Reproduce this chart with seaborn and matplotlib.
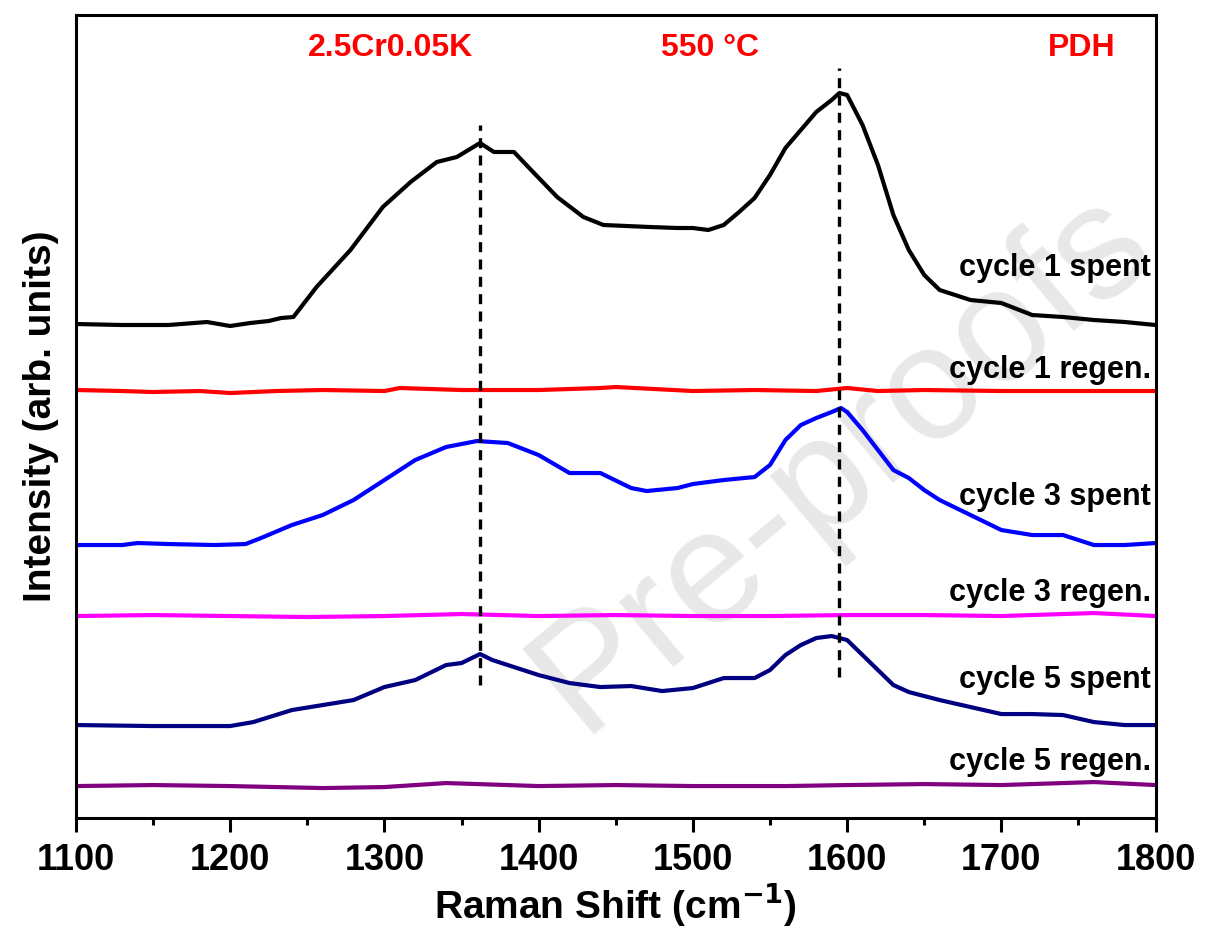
import numpy as np
import pandas as pd
import matplotlib
matplotlib.use("Agg")
import matplotlib.pyplot as plt
import seaborn as sns

# ---- data (intensity in arbitrary units) ----
x_c1_spent = [1100, 1130, 1160, 1185, 1200, 1213, 1225, 1233, 1241, 1256, 1278, 1299, 1317, 1334,
              1347, 1362, 1371, 1384, 1397, 1412, 1429, 1442, 1472, 1490, 1500,
              1510, 1520, 1530, 1540, 1550, 1560, 1570, 1580, 1590, 1595, 1600, 1610, 1620, 1630, 1640, 1650,
              1660, 1670, 1680, 1700, 1720, 1740, 1760, 1780, 1800]
y_c1_spent = [494, 493, 493, 496, 492, 495, 497, 500, 501, 531, 568, 611, 636, 656,
              661, 675, 666, 666, 645, 621, 601, 593, 591, 590, 590,
              588, 593, 606, 620, 643, 670, 688, 706, 718, 725, 723, 693, 653, 603, 568, 543,
              528, 523, 518, 515, 503, 501, 498, 496, 493]

x_c1_regen = [1100, 1130, 1150, 1180, 1200, 1230, 1260, 1300, 1310, 1350, 1400, 1440, 1450, 1500, 1540,
              1580, 1600, 1620, 1650, 1700, 1750, 1800]
y_c1_regen = [428, 427, 426, 427, 425, 427, 428, 427, 430, 428, 428, 430, 431, 427, 428,
              427, 430, 427, 428, 427, 427, 427]

x_c3_spent = [1100, 1130, 1140, 1160, 1190, 1210, 1220, 1240, 1260, 1280, 1300, 1320, 1340, 1360, 1380,
              1400, 1420, 1440, 1460, 1470, 1490, 1500, 1520, 1540, 1550, 1560, 1570, 1580, 1590, 1596,
              1600, 1610, 1620, 1630, 1640, 1650, 1660, 1680, 1700, 1720, 1740, 1760, 1780, 1800]
y_c3_spent = [273, 273, 275, 274, 273, 274, 280, 293, 303, 318, 338, 358, 371, 377, 375,
              363, 345, 345, 330, 327, 330, 334, 338, 341, 353, 378, 393, 400, 406, 410,
              406, 388, 368, 348, 340, 328, 318, 303, 288, 283, 283, 273, 273, 275]

x_c3_regen = [1100, 1150, 1200, 1250, 1300, 1350, 1400, 1450, 1500, 1550, 1600, 1650, 1700, 1760, 1800]
y_c3_regen = [202, 203, 202, 201, 202, 204, 202, 203, 202, 202, 203, 203, 202, 205, 202]

x_c5_spent = [1100, 1150, 1200, 1215, 1240, 1260, 1280, 1300, 1320, 1340, 1350, 1362, 1370, 1400, 1420,
              1440, 1460, 1480, 1500, 1520, 1540, 1550, 1560, 1570, 1580, 1590, 1600, 1610, 1620, 1630,
              1640, 1660, 1680, 1700, 1720, 1740, 1760, 1780, 1800]
y_c5_spent = [93, 92, 92, 96, 108, 113, 118, 131, 138, 153, 155, 164, 158, 143, 135,
              131, 132, 127, 130, 140, 140, 148, 163, 173, 180, 182, 178, 163, 148, 133,
              126, 118, 111, 104, 104, 103, 96, 93, 93]

x_c5_regen = [1100, 1150, 1200, 1260, 1300, 1340, 1400, 1450, 1500, 1560, 1600, 1650, 1700, 1760, 1800]
y_c5_regen = [32, 33, 32, 30, 31, 35, 32, 33, 32, 32, 33, 34, 33, 36, 33]

series_names = ["cycle 1 spent", "cycle 1 regen.", "cycle 3 spent",
                "cycle 3 regen.", "cycle 5 spent", "cycle 5 regen."]
series_colors = ["#000000", "#ff0000", "#0000ff", "#ff00ff", "#000080", "#800080"]
label_y = [550, 448, 321, 225, 138, 56]

peak_positions = [1362, 1595]
peak_ranges = [(133, 693), (141, 750)]

top_labels = ["2.5Cr0.05K", "550 °C", "PDH"]
top_label_x = [1304, 1511, 1752]

xticks = [1100, 1200, 1300, 1400, 1500, 1600, 1700, 1800]

# ---- plotting ----
sns.set_style("ticks")
plt.rcParams["font.family"] = ["Liberation Sans", "DejaVu Sans"]
plt.rcParams["font.weight"] = "bold"
plt.rcParams["text.color"] = "black"
plt.rcParams["axes.labelcolor"] = "black"
plt.rcParams["xtick.color"] = "black"
plt.rcParams["axes.edgecolor"] = "black"

fig = plt.figure(figsize=(12.05, 9.36), dpi=100)
ax = fig.add_axes([0.063, 0.126, 0.896, 0.858])

# watermark (behind everything)
fig.text(0.699, 0.508, "Pre-proofs", fontsize=116, color="#e8e8e8",
         rotation=40, ha="center", va="center", zorder=-5, family="Liberation Sans",
         fontweight="normal", rotation_mode="anchor")
ax.set_facecolor("none")

xs = [x_c1_spent, x_c1_regen, x_c3_spent, x_c3_regen, x_c5_spent, x_c5_regen]
ys = [y_c1_spent, y_c1_regen, y_c3_spent, y_c3_regen, y_c5_spent, y_c5_regen]
for xv, yv, name, col in zip(xs, ys, series_names, series_colors):
    df = pd.DataFrame({"x": xv, "y": yv})
    sns.lineplot(data=df, x="x", y="y", color=col, linewidth=3.0, ax=ax,
                 sort=False, estimator=None)

for name, ly in zip(series_names, label_y):
    ax.text(1797, ly, name, ha="right", va="center", fontsize=22, fontweight="bold", color="black")

for px, (y0, y1) in zip(peak_positions, peak_ranges):
    ax.plot([px, px], [y0, y1], color="black", linestyle=(0, (3, 2.2)), linewidth=2.4)

for t, tx in zip(top_labels, top_label_x):
    ax.text(tx, 770, t, ha="center", va="center", fontsize=23, fontweight="bold", color="#ff0000")

ax.set_xlim(1100, 1800)
ax.set_ylim(0, 803)
ax.set_xticks(xticks)
ax.set_xticks(np.arange(1150, 1800, 100), minor=True)
ax.set_yticks([])
ax.tick_params(axis="x", which="major", direction="out", length=10, width=2.2,
               labelsize=26, pad=8, colors="black")
ax.tick_params(axis="x", which="minor", direction="out", length=5, width=2.2, colors="black")
for lab in ax.get_xticklabels():
    lab.set_fontweight("bold")
for sp in ax.spines.values():
    sp.set_linewidth(2.2)
    sp.set_visible(True)
    sp.set_color("black")

ax.set_xlabel("Raman Shift (cm$^{\\mathbf{-1}}$)", fontsize=28, fontweight="bold", labelpad=2)
ax.set_ylabel("Intensity (arb. units)", fontsize=28, fontweight="bold", labelpad=12)

fig.savefig("out.png", dpi=100)
